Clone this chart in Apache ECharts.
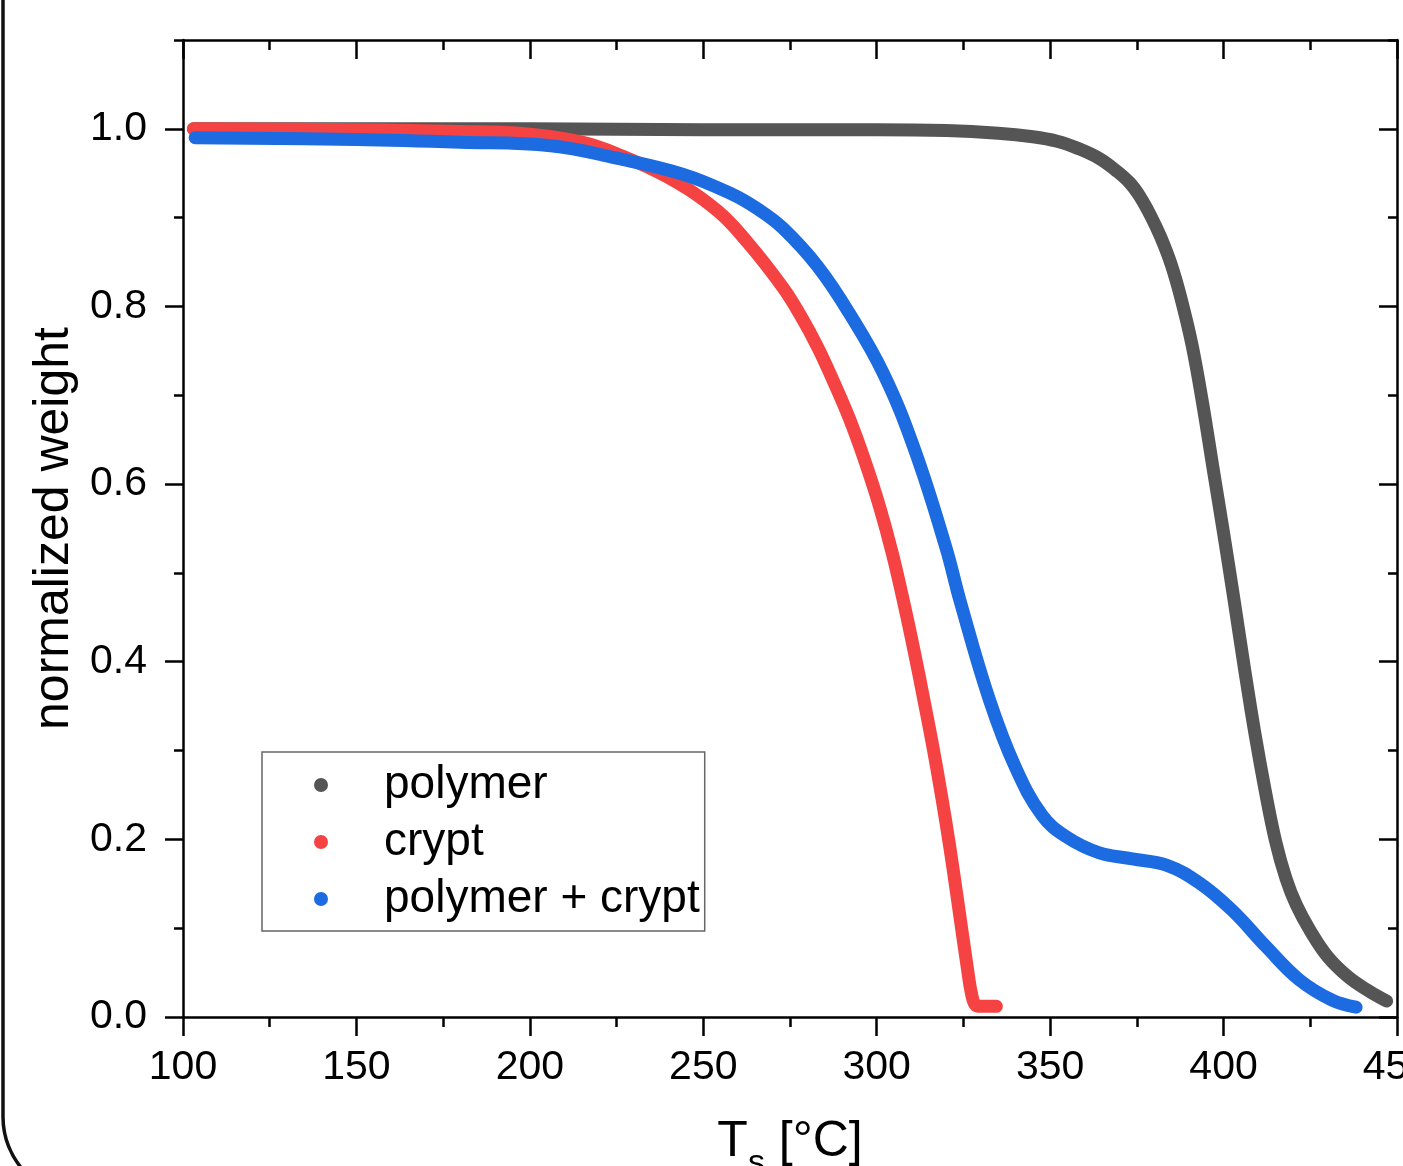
<!DOCTYPE html>
<html>
<head>
<meta charset="utf-8">
<title>normalized weight</title>
<script src="https://cdn.jsdelivr.net/npm/echarts@6/dist/echarts.min.js"></script>
<style>
  html, body { margin: 0; padding: 0; background: #fff; }
  #box { width: 1403px; height: 1166px; }
</style>
</head>
<body>
<div id="box"></div>
<script>
// values (T in °C, normalized weight)
const polymerT = [103, 150, 200, 250, 300, 320, 335, 345, 352, 358, 364, 369, 373, 376, 379, 382, 385, 388, 391, 394, 397, 400, 403, 406, 409, 412, 415, 418, 421, 425, 430, 436, 442, 447]
const polymerW = [1.0, 1.0, 1.0, 0.999, 0.999, 0.998, 0.995, 0.991, 0.986, 0.978, 0.967, 0.953, 0.939, 0.923, 0.902, 0.877, 0.846, 0.805, 0.755, 0.69, 0.617, 0.545, 0.47, 0.393, 0.32, 0.255, 0.198, 0.156, 0.126, 0.097, 0.068, 0.045, 0.029, 0.018]

const cryptT = [103, 150, 180, 200, 215, 225, 240, 254, 263, 273, 278, 283, 287.5, 292, 296.5, 300.8, 304.5, 308, 311, 313.7, 316.4, 318.9, 321.2, 323.3, 326.1, 327.4, 328.6, 330, 334.5]
const cryptW = [1.0, 0.999, 0.997, 0.994, 0.985, 0.972, 0.945, 0.908, 0.871, 0.821, 0.790, 0.754, 0.716, 0.675, 0.627, 0.575, 0.522, 0.463, 0.408, 0.355, 0.30, 0.244, 0.188, 0.132, 0.056, 0.025, 0.013, 0.012, 0.012]

const mixT = [103.5, 150, 180, 206, 225, 244, 258, 266, 273, 283, 292, 302, 311, 320, 324, 332.5, 340, 347.7, 354.6, 364, 373.7, 383.5, 393, 402.5, 412.3, 421.8, 431.3, 438.2]
const mixW = [0.990, 0.988, 0.985, 0.981, 0.967, 0.949, 0.927, 0.909, 0.888, 0.845, 0.793, 0.724, 0.638, 0.528, 0.469, 0.357, 0.281, 0.227, 0.203, 0.185, 0.178, 0.171, 0.151, 0.120, 0.079, 0.042, 0.019, 0.011]

const seriesNames = ['polymer', 'crypt', 'polymer + crypt']
const seriesColors = ['#555555', '#f54343', '#1c6be0']

const yMajor = [0, 0.2, 0.4, 0.6, 0.8, 1.0]
const yMinor = [0.1, 0.3, 0.5, 0.7, 0.9, 1.1]

const pairs = (xs, ys) => xs.map((x, i) => [x, ys[i]])

const font = 'Liberation Sans, Arial, sans-serif'
const black = '#000'

const myeCharts = echarts.init(document.getElementById('box'))

function xAx(pos) {
  return {
    type: 'value',
    position: pos,
    min: 100, max: 450, interval: 50,
    axisLine: { show: true, onZero: false, lineStyle: { color: black, width: 2.5 } },
    axisTick: { show: true, inside: pos === 'top', length: 19, lineStyle: { color: black, width: 2.5 } },
    minorTick: { show: true, splitNumber: 2, length: 10, lineStyle: { color: black, width: 2.5 } },
    axisLabel: { show: pos === 'bottom', fontSize: 41, color: black, fontFamily: font, margin: 30 },
    splitLine: { show: false },
    minorSplitLine: { show: false }
  }
}

function yAx(pos, ticks, len, withLine) {
  return {
    type: 'value',
    position: pos,
    min: 0, max: 1.1,
    axisLine: { show: withLine, onZero: false, lineStyle: { color: black, width: 2.5 } },
    axisTick: { show: true, inside: pos === 'right', length: len, customValues: ticks, lineStyle: { color: black, width: 2.5 } },
    axisLabel: { show: false },
    splitLine: { show: false }
  }
}

const yMain = yAx('left', yMajor, 18, true)
yMain.axisLabel = {
  show: true, customValues: yMajor, fontSize: 41, color: black, fontFamily: font, margin: 36,
  formatter: v => v.toFixed(1)
}
yMain.name = 'normalized weight'
yMain.nameLocation = 'middle'
yMain.nameGap = 100
yMain.nameTextStyle = { fontSize: 50, color: black, fontFamily: font }

const xMain = xAx('bottom')
xMain.name = '{a|T}{b|s}{a| [°C]}'
xMain.nameLocation = 'middle'
xMain.nameGap = 100
xMain.nameTextStyle = {
  color: black, fontFamily: font,
  rich: {
    a: { fontSize: 50, color: black, fontFamily: font },
    b: { fontSize: 34, color: black, fontFamily: font, verticalAlign: 'bottom', padding: [0, 0, -14, 0] }
  }
}

const option = {
  backgroundColor: '#fff',
  animation: false,
  grid: { left: 183, right: 6, top: 40, bottom: 149, outerBoundsMode: 'none' },
  legend: {
    orient: 'vertical',
    left: 262, top: 752,
    icon: 'circle',
    itemWidth: 116, itemHeight: 14,
    itemGap: 11,
    padding: [10, 5, 9, 52],
    borderColor: '#666', borderWidth: 1.5, borderRadius: 0,
    textStyle: { fontSize: 46, color: black, fontFamily: font, lineHeight: 46 },
    data: seriesNames
  },
  xAxis: [xMain, xAx('top')],
  yAxis: [yMain, yAx('left', yMinor, 9, false), yAx('right', yMajor, 18, true), yAx('right', yMinor, 9, false)],
  graphic: [{
    type: 'rect',
    silent: true,
    shape: { x: 3, y: -100, width: 1600, height: 1297, r: 80 },
    style: { fill: 'none', stroke: '#111', lineWidth: 3.5 }
  }],
  series: [
    [polymerT, polymerW],
    [cryptT, cryptW],
    [mixT, mixW]
  ].map((d, i) => ({
    name: seriesNames[i],
    type: 'line',
    xAxisIndex: 0,
    yAxisIndex: 0,
    data: pairs(d[0], d[1]),
    color: seriesColors[i],
    smooth: 0.4,
    showSymbol: false,
    lineStyle: { width: 13, color: seriesColors[i], cap: 'round', join: 'round' },
    z: 2 + i
  }))
}
myeCharts.setOption(option)
</script>
</body>
</html>
